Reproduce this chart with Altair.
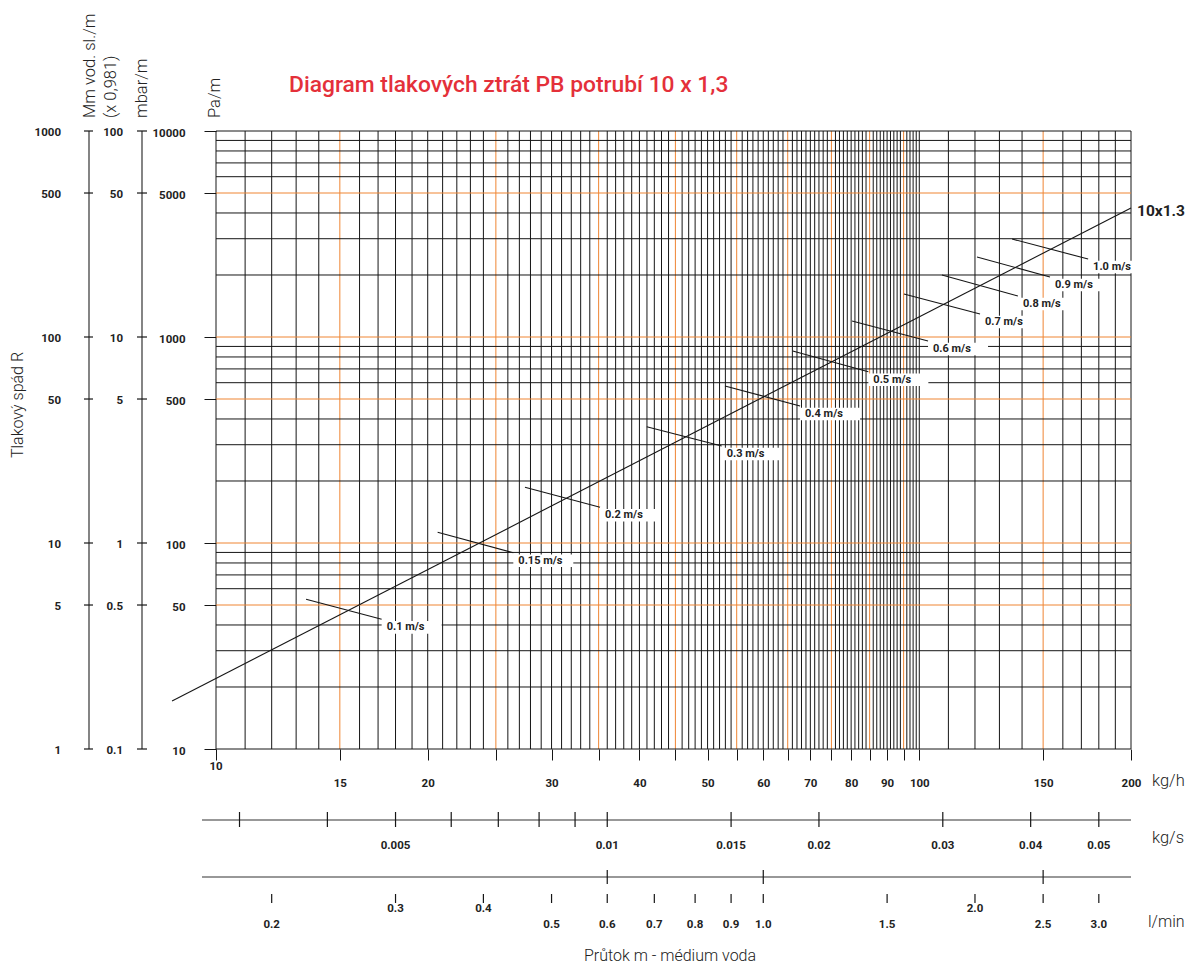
import altair as alt
import pandas as pd

# ---------------- data ----------------
kgh_grid = list(range(10, 101)) + [110, 120, 130, 140, 150, 160, 170, 180, 190, 200]
kgh_orange = [15, 25, 35, 45, 55, 65, 75, 85, 95, 150]
pa_grid = [10, 20, 30, 40, 50, 60, 70, 80, 90,
           100, 200, 300, 400, 500, 600, 700, 800, 900,
           1000, 2000, 3000, 4000, 5000, 6000, 7000, 8000, 9000, 10000]
pa_orange = [50, 100, 500, 1000, 5000]

kgh_ticks = [10, 15, 20, 25, 30, 35, 40, 45, 50, 55, 60, 65, 70, 75, 80, 85, 90, 95, 100, 150, 200]
kgh_labeled = [15, 20, 30, 40, 50, 60, 70, 80, 90, 100, 150, 200]
kgh_first = [10]

pa_ticks = [10, 50, 100, 500, 1000, 5000, 10000]
mm_labels = ["1", "5", "10", "50", "100", "500", "1000"]
mbar_labels = ["0.1", "0.5", "1", "5", "10", "50", "100"]

kgs_ticks = [0.003, 0.004, 0.005, 0.006, 0.007, 0.008, 0.009, 0.01, 0.015, 0.02, 0.03, 0.04, 0.05]
kgs_labels = ["", "", "0.005", "", "", "", "", "0.01", "0.015", "0.02", "0.03", "0.04", "0.05"]

lmin_ticks = [0.2, 0.3, 0.4, 0.5, 0.6, 0.7, 0.8, 0.9, 1.0, 1.5, 2.0, 2.5, 3.0]
lmin_labels = ["0.2", "0.3", "0.4", "0.5", "0.6", "0.7", "0.8", "0.9", "1.0", "1.5", "2.0", "2.5", "3.0"]
lmin_major = [0.6, 1.0, 2.5]
lmin_high = [0.3, 0.4, 2.0]

pipe_name = "10x1.3"
pipe_kgh = [8.66, 200.0]
pipe_pa = [17.1, 4229.0]

vel_labels = ["0.1 m/s", "0.15 m/s", "0.2 m/s", "0.3 m/s", "0.4 m/s", "0.5 m/s",
              "0.6 m/s", "0.7 m/s", "0.8 m/s", "0.9 m/s", "1.0 m/s"]
vel_kgh_start = [13.43, 20.66, 27.50, 40.97, 52.93, 66.07, 80.24, 95.1, 107.7, 120.8, 135.5]
vel_pa_start = [53.3, 112.7, 186.4, 367.0, 578.2, 855.1, 1196, 1617, 2000, 2445, 2990]
vel_kgh_end = [17.20, 26.47, 35.16, 52.36, 67.68, 84.64, 102.9, 122.0, 138.1, 153.4, 173.8]
vel_pa_end = [42.6, 89.7, 149.1, 295.8, 462.4, 678.6, 956, 1293, 1581, 1956, 2391]

# ---------------- tables ----------------
df_vg = pd.DataFrame({"kgh": kgh_grid, "major": [v in kgh_orange for v in kgh_grid]})
df_hg = pd.DataFrame({"pa": pa_grid, "major": [v in pa_orange for v in pa_grid]})
df_first = pd.DataFrame({"kgh": kgh_first, "label": [str(v) for v in kgh_first]})
df_left = pd.DataFrame({"pa": pa_ticks, "mm": mm_labels, "mbar": mbar_labels})
df_kgs = pd.DataFrame({"kgh": [v * 3600 for v in kgs_ticks], "label": kgs_labels})
df_lmin = pd.DataFrame({"kgh": [v * 60 for v in lmin_ticks], "label": lmin_labels,
                        "major": [v in lmin_major for v in lmin_ticks],
                        "high": [v in lmin_high for v in lmin_ticks]})
df_pipe = pd.DataFrame({"kgh": pipe_kgh, "pa": pipe_pa})
df_pipe_lab = pd.DataFrame({"kgh": [pipe_kgh[-1]], "pa": [pipe_pa[-1]], "name": [pipe_name]})
df_vel = pd.DataFrame({"label": vel_labels, "x1": vel_kgh_start, "y1": vel_pa_start,
                       "x2": vel_kgh_end, "y2": vel_pa_end})
one = pd.DataFrame({"a": [0]})

# ---------------- styling ----------------
W, H = 915, 618
BLACK = "#161616"
ORANGE = "#ef8533"
RED = "#e4303a"
FONT = "Roboto"
LBL = 11.5

xs = alt.Scale(type="log", domain=[10, 200], nice=False)
ys = alt.Scale(type="log", domain=[10, 10000], nice=False)

labeled_list = "[" + ",".join(str(v) for v in kgh_labeled) + "]"

x_axis = alt.Axis(
    values=kgh_ticks,
    labelExpr=f"indexof({labeled_list}, datum.value) >= 0 ? format(datum.value, 'd') : ''",
    tickSize=11, tickColor=BLACK, tickWidth=1, labelPadding=17,
    labelFont=FONT, labelFontSize=LBL, labelFontWeight="bold", labelColor="#222",
    labelOverlap=False, labelFlush=False, labelBound=False,
    grid=False, domain=False, title=None,
)
y_axis = alt.Axis(
    values=pa_ticks,
    labelExpr="format(datum.value, 'd')",
    tickSize=12, tickColor=BLACK, tickWidth=1, labelPadding=19, labelOffset=2,
    labelFont=FONT, labelFontSize=LBL, labelFontWeight="bold", labelColor="#222",
    labelOverlap=False, labelFlush=False, labelBound=False,
    grid=False, domain=False, title=None,
)


def X(field):
    return alt.X(field, type="quantitative", scale=xs, axis=x_axis)


def Y(field):
    return alt.Y(field, type="quantitative", scale=ys, axis=y_axis)


color_cond = alt.condition("datum.major", alt.value(ORANGE), alt.value(BLACK))

vgrid = alt.Chart(df_vg).mark_rule(strokeWidth=1).encode(x=X("kgh"), color=color_cond)
hgrid = alt.Chart(df_hg).mark_rule(strokeWidth=1).encode(y=Y("pa"), color=color_cond)
first_lab = alt.Chart(df_first).mark_text(
    align="center", baseline="middle", font=FONT, fontSize=LBL, fontWeight="bold",
    color="#222").encode(x=X("kgh"), y=alt.value(H + 18), text="label:N")

BOX = "M-1,-0.21L1,-0.21L1,0.21L-1,0.21Z"
boxes = alt.Chart(df_vel).mark_point(
    shape=BOX, size=60 * 60, filled=True, color="white", opacity=1, strokeWidth=0,
    xOffset=30, yOffset=8).encode(x=X("x2"), y=Y("y2"))

pipe = alt.Chart(df_pipe).mark_line(color=BLACK, strokeWidth=1.1, clip=False).encode(
    x=X("kgh"), y=Y("pa"))
pipe_lab = alt.Chart(df_pipe_lab).mark_text(
    align="left", baseline="middle", dx=6, dy=3, font=FONT, fontSize=15.5,
    fontWeight="bold", color="#222").encode(x=X("kgh"), y=Y("pa"), text="name:N")

vel_lines = alt.Chart(df_vel).mark_rule(color=BLACK, strokeWidth=1.1).encode(
    x=X("x1"), y=Y("y1"), x2="x2:Q", y2="y2:Q")
vel_text = alt.Chart(df_vel).mark_text(
    align="left", baseline="middle", dx=5, dy=8, font=FONT, fontSize=11,
    fontWeight="bold", color="#222").encode(x=X("x2"), y=Y("y2"), text="label:N")

# ---- left extra scales (Mm vod. sl./m, mbar/m) ----
AX = "#333"
mm_line = alt.Chart(one).mark_rule(color=AX, strokeWidth=1.2).encode(
    x=alt.value(-127), y=alt.value(0), y2=alt.value(H))
mm_ticks = alt.Chart(df_left).mark_rule(color=BLACK, strokeWidth=1.2).encode(
    x=alt.value(-132), x2=alt.value(-123), y=Y("pa"))
mm_text = alt.Chart(df_left).mark_text(
    align="right", baseline="middle", dy=2, font=FONT, fontSize=LBL, fontWeight="bold",
    color="#222").encode(x=alt.value(-155), y=Y("pa"), text="mm:N")
mb_line = alt.Chart(one).mark_rule(color=AX, strokeWidth=1.2).encode(
    x=alt.value(-74), y=alt.value(0), y2=alt.value(H))
mb_ticks = alt.Chart(df_left).mark_rule(color=BLACK, strokeWidth=1.2).encode(
    x=alt.value(-79), x2=alt.value(-69), y=Y("pa"))
mb_text = alt.Chart(df_left).mark_text(
    align="right", baseline="middle", dy=2, font=FONT, fontSize=LBL, fontWeight="bold",
    color="#222").encode(x=alt.value(-93), y=Y("pa"), text="mbar:N")

# ---- lower scales (kg/s, l/min) ----
KGS_Y = 689
kgs_line = alt.Chart(one).mark_rule(color=AX, strokeWidth=1.2).encode(
    x=alt.value(-14), x2=alt.value(W), y=alt.value(KGS_Y))
kgs_ticks = alt.Chart(df_kgs).mark_rule(color=BLACK, strokeWidth=1.2).encode(
    x=X("kgh"), y=alt.value(KGS_Y - 8), y2=alt.value(KGS_Y + 7))
kgs_text = alt.Chart(df_kgs).transform_filter("datum.label != ''").mark_text(
    align="center", baseline="middle", font=FONT, fontSize=LBL, fontWeight="bold",
    color="#222").encode(x=X("kgh"), y=alt.value(KGS_Y + 26), text="label:N")

LM_Y = 746
lm_line = alt.Chart(one).mark_rule(color=AX, strokeWidth=1.2).encode(
    x=alt.value(-14), x2=alt.value(W), y=alt.value(LM_Y))
lm_ticks_major = alt.Chart(df_lmin).transform_filter("datum.major").mark_rule(
    color=BLACK, strokeWidth=1.2).encode(
    x=X("kgh"), y=alt.value(LM_Y - 7), y2=alt.value(LM_Y + 7))
lm_ticks_minor = alt.Chart(df_lmin).mark_rule(color=BLACK, strokeWidth=1.2).encode(
    x=X("kgh"), y=alt.value(LM_Y + 17), y2=alt.value(LM_Y + 26))
lm_text_low = alt.Chart(df_lmin).transform_filter("!datum.high").mark_text(
    align="center", baseline="middle", font=FONT, fontSize=LBL, fontWeight="bold",
    color="#222").encode(x=X("kgh"), y=alt.value(LM_Y + 48), text="label:N")
lm_text_high = alt.Chart(df_lmin).transform_filter("datum.high").mark_text(
    align="center", baseline="middle", font=FONT, fontSize=LBL, fontWeight="bold",
    color="#222").encode(x=X("kgh"), y=alt.value(LM_Y + 32), text="label:N")

# ---- titles / unit labels ----
def label(text, x, y, size=16.5, weight=300, align="left", angle=0, color="#222", baseline="middle"):
    kw = dict(text=text, align=align, baseline=baseline, font=FONT, fontSize=size,
              fontWeight=weight, color=color)
    if angle:
        kw["angle"] = angle
    return alt.Chart(one).mark_text(**kw).encode(x=alt.value(x), y=alt.value(y))

texts = [
    label("Diagram tlakových ztrát PB potrubí 10 x 1,3", 73, -46, size=22.8, weight=500, color=RED),
    label("Mm vod. sl./m", -126.5, -13, angle=270),
    label("(x 0,981)", -105, -13, angle=270),
    label("mbar/m", -74, -13, angle=270),
    label("Pa/m", -1, -13, angle=270),
    label("Tlakový spád R", -198, 274, size=16, angle=270, align="center"),
    label("kg/h", 936, 650, size=16.5),
    label("kg/s", 936, 707, size=16.5),
    label("l/min", 932, 791, size=16),
    label("Průtok m - médium voda", 454, 830, size=16, align="center", baseline="alphabetic"),
]

chart = alt.layer(
    vgrid, hgrid, first_lab, boxes, pipe, vel_lines, vel_text, pipe_lab,
    mm_line, mm_ticks, mm_text, mb_line, mb_ticks, mb_text,
    kgs_line, kgs_ticks, kgs_text,
    lm_line, lm_ticks_major, lm_ticks_minor, lm_text_low, lm_text_high,
    *texts,
).properties(
    width=W, height=H,
    padding={"left": 208, "top": 123, "right": 55, "bottom": 215},
    autosize=alt.AutoSizeParams(type="none"),
).configure_view(stroke=None)

chart.save("out.html", embed_options={"renderer": "svg", "actions": False})
